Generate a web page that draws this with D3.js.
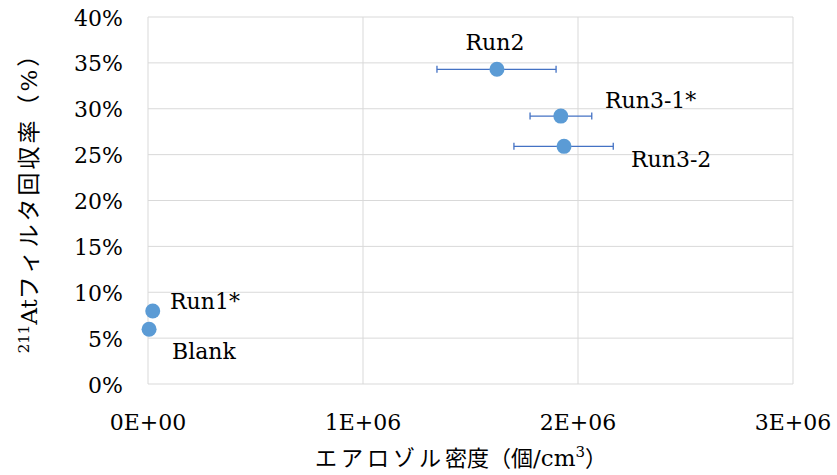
<!DOCTYPE html>
<html><head><meta charset="utf-8">
<script src="https://cdn.jsdelivr.net/npm/d3@7"></script>
<style>body{margin:0;background:#fff} text{font-family:"DejaVu Serif","Liberation Serif","Noto Sans CJK JP",serif}</style>
</head><body>
<svg id="c" width="837" height="475"></svg>
<script>
const labels = ["Blank","Run1*","Run2","Run3-1*","Run3-2"];
const xVals = [5e3, 2.2e4, 1.623e6, 1.92e6, 1.935e6];
const yVals = [0.0596, 0.0796, 0.343, 0.292, 0.259];
const xErrLo = [null, null, 1.344e6, 1.777e6, 1.702e6];
const xErrHi = [null, null, 1.898e6, 2.064e6, 2.164e6];
const xTicks = [0, 1e6, 2e6, 3e6];
const xTickLabels = ["0E+00","1E+06","2E+06","3E+06"];
const yTicks = [0,0.05,0.10,0.15,0.20,0.25,0.30,0.35,0.40];
const yTickLabels = ["0%","5%","10%","15%","20%","25%","30%","35%","40%"];

const svg = d3.select("#c");
const L=148,R=793,T=17,B=384;
const x = d3.scaleLinear().domain([0,3e6]).range([L,R]);
const y = d3.scaleLinear().domain([0,0.4]).range([B,T]);
const FS = 22;

// gridlines
svg.append("g").selectAll("line").data(yTicks.slice(1)).join("line")
  .attr("x1",L).attr("x2",R).attr("y1",d=>y(d)).attr("y2",d=>y(d))
  .attr("stroke","#d9d9d9").attr("stroke-width",1);
svg.append("g").selectAll("line").data(xTicks.slice(1)).join("line")
  .attr("x1",d=>x(d)).attr("x2",d=>x(d)).attr("y1",T).attr("y2",B)
  .attr("stroke","#d9d9d9").attr("stroke-width",1);
svg.append("line").attr("x1",L).attr("x2",L).attr("y1",T).attr("y2",B).attr("stroke","#d9d9d9");
svg.append("line").attr("x1",L).attr("x2",R).attr("y1",B).attr("y2",B).attr("stroke","#d9d9d9");

// tick labels
svg.append("g").selectAll("text").data(yTicks).join("text")
  .attr("x",123).attr("y",d=>y(d)+8.5).attr("text-anchor","end")
  .attr("font-size",FS).attr("fill","#000")
  .text((d,i)=>yTickLabels[i]);
svg.append("g").selectAll("text").data(xTicks).join("text")
  .attr("x",d=>x(d)).attr("y",430).attr("text-anchor","middle")
  .attr("font-size",FS).attr("fill","#000")
  .text((d,i)=>xTickLabels[i]);

// axis titles
const xt = svg.append("text").attr("x",461).attr("y",466).attr("text-anchor","middle")
  .attr("font-size",22).attr("fill","#000");
xt.append("tspan").attr("letter-spacing",4).text("エアロゾル");
xt.append("tspan").text("密度（個");
xt.append("tspan").attr("font-size",23).text("/cm");
xt.append("tspan").attr("font-size",15).attr("dy",-9).text("3");
xt.append("tspan").attr("dy",9).text("）");

const yt = svg.append("text").attr("transform","translate(37,197) rotate(-90)")
  .attr("text-anchor","middle").attr("font-size",23).attr("fill","#000");
yt.append("tspan").attr("font-size",15).attr("dy",-8).text("211");
yt.append("tspan").attr("dy",8).attr("font-size",23).text("At");
yt.append("tspan").attr("letter-spacing",3).text("フィルタ回収率（%）");

// error bars
const eb = labels.map((l,i)=>i).filter(i=>xErrLo[i]!==null);
const ge = svg.append("g").attr("stroke","#4472c4").attr("stroke-width",1.3);
ge.selectAll("line.h").data(eb).join("line").attr("class","h")
  .attr("x1",i=>x(xErrLo[i])).attr("x2",i=>x(xErrHi[i]))
  .attr("y1",i=>y(yVals[i])).attr("y2",i=>y(yVals[i]));
ge.selectAll("line.l").data(eb).join("line").attr("class","l")
  .attr("x1",i=>x(xErrLo[i])).attr("x2",i=>x(xErrLo[i]))
  .attr("y1",i=>y(yVals[i])-3.5).attr("y2",i=>y(yVals[i])+3.5);
ge.selectAll("line.r").data(eb).join("line").attr("class","r")
  .attr("x1",i=>x(xErrHi[i])).attr("x2",i=>x(xErrHi[i]))
  .attr("y1",i=>y(yVals[i])-3.5).attr("y2",i=>y(yVals[i])+3.5);

// points
svg.append("g").selectAll("circle").data(labels).join("circle")
  .attr("cx",(d,i)=>x(xVals[i])).attr("cy",(d,i)=>y(yVals[i])).attr("r",7.5)
  .attr("fill","#5b9bd5");

// data labels
const lblPos = {"Blank":[172,359,"start"],"Run1*":[170,309,"start"],"Run2":[495,50,"middle"],"Run3-1*":[605,108,"start"],"Run3-2":[631,167,"start"]};
svg.append("g").selectAll("text").data(labels).join("text")
  .attr("x",d=>lblPos[d][0]).attr("y",d=>lblPos[d][1]).attr("text-anchor",d=>lblPos[d][2])
  .attr("font-size",FS).attr("fill","#000").text(d=>d);
</script>
</body></html>
